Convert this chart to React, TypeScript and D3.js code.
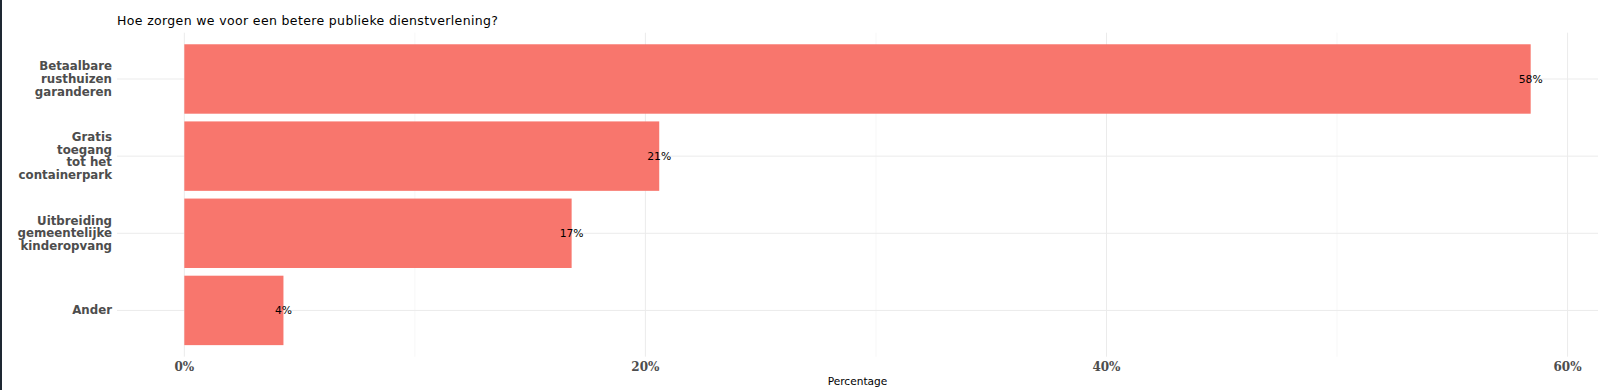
import React from "react";
import * as d3 from "d3";

// answers, top to bottom
const categories = [
  ["Betaalbare", "rusthuizen", "garanderen"],
  ["Gratis", "toegang", "tot het", "containerpark"],
  ["Uitbreiding", "gemeentelijke", "kinderopvang"],
  ["Ander"],
];
const values = [58.4, 20.6, 16.8, 4.3];
const labels = ["58%", "21%", "17%", "4%"];
const majorTicks = [0, 20, 40, 60];
const minorTicks = [10, 30, 50];

const width = 1598,
  height = 390;

const App = () => {
  const left = 117,
    right = 1598,
    top = 32.7,
    bottom = 356.7;

  const max = d3.max(values) as number;
  const pad = max * 0.05;
  const x = d3.scaleLinear().domain([-pad, max + pad]).range([left, right]);
  const y = d3
    .scalePoint<number>()
    .domain(d3.range(categories.length))
    .range([top, bottom])
    .padding(0.6);
  const barH = y.step() * 0.9;
  const lineH = 12.7;

  return (
    <>
      <style>{`body{margin:0}`}</style>
      <svg width={width} height={height} style={{ display: "block" }}>
        <rect x={0} y={0} width={width} height={height} fill="white" />
        <rect x={0} y={0} width={2} height={height} fill="#1e2833" />

        {/* grid */}
        {minorTicks.map((t) => (
          <line key={"m" + t} x1={x(t)} x2={x(t)} y1={top} y2={bottom} stroke="#f2f2f2" strokeWidth={0.6} />
        ))}
        {majorTicks.map((t) => (
          <line key={"M" + t} x1={x(t)} x2={x(t)} y1={top} y2={bottom} stroke="#ebebeb" strokeWidth={1} />
        ))}
        {categories.map((c, i) => (
          <line key={"h" + i} x1={left} x2={right} y1={y(i)} y2={y(i)} stroke="#ebebeb" strokeWidth={1} />
        ))}

        {/* bars */}
        {values.map((v, i) => (
          <rect
            key={"b" + i}
            x={x(0)}
            y={(y(i) as number) - barH / 2}
            width={x(v) - x(0)}
            height={barH}
            fill="#F8766D"
          />
        ))}
        {values.map((v, i) => (
          <text
            key={"l" + i}
            x={x(v)}
            y={(y(i) as number) + 4}
            textAnchor="middle"
            fontFamily="DejaVu Sans"
            fontSize={10.8}
            fill="#000"
          >
            {labels[i]}
          </text>
        ))}

        {/* y axis labels */}
        {categories.map((lines, i) => {
          const y0 = (y(i) as number) - ((lines.length - 1) * lineH) / 2 + 4;
          return (
            <text
              key={"y" + i}
              textAnchor="end"
              fontFamily="DejaVu Sans"
              fontWeight="bold"
              fontSize={11.8}
              fill="#4d4d4d"
            >
              {lines.map((s, j) => (
                <tspan key={j} x={112} y={y0 + j * lineH}>
                  {s}
                </tspan>
              ))}
            </text>
          );
        })}

        {/* x axis labels */}
        {majorTicks.map((t) => (
          <text
            key={"x" + t}
            x={x(t)}
            y={370.7}
            textAnchor="middle"
            fontFamily="DejaVu Serif"
            fontWeight="bold"
            fontSize={12}
            fill="#4d4d4d"
          >
            {t + "%"}
          </text>
        ))}
        <text x={(left + right) / 2} y={385} textAnchor="middle" fontFamily="DejaVu Sans" fontSize={10.6} fill="#000">
          Percentage
        </text>

        <text
          x={left}
          y={25}
          fontFamily="DejaVu Sans"
          fontSize={12.5}
          fill="#000"
          textLength={381}
          lengthAdjust="spacing"
        >
          Hoe zorgen we voor een betere publieke dienstverlening?
        </text>
      </svg>
    </>
  );
};

export default App;
